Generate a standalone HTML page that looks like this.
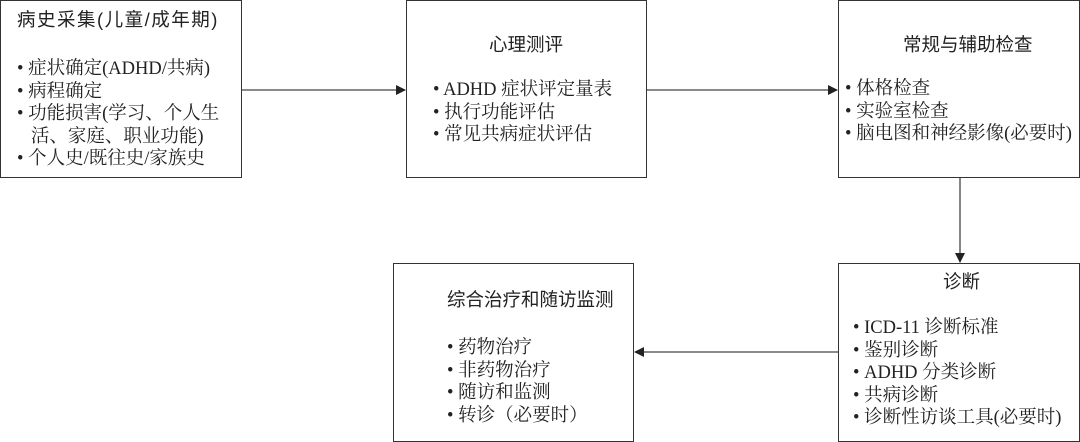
<!DOCTYPE html>
<html><head><meta charset="utf-8"><style>
body{margin:0;width:1080px;height:442px;background:#fff;position:relative;overflow:hidden;color:#222}
.b{position:absolute;border:1.5px solid #333;box-sizing:border-box;background:#fff}
.t{position:absolute;font-family:"Liberation Sans","Noto Sans CJK SC",sans-serif;font-size:18.5px;white-space:nowrap;line-height:22px}
.s{position:absolute;font-family:"Liberation Serif","Noto Serif CJK SC",serif;font-size:18.5px;white-space:nowrap;line-height:22.5px}
</style></head><body>
<svg width="1080" height="442" style="position:absolute;left:0;top:0">
<defs><marker id="a" markerWidth="10" markerHeight="10" refX="9" refY="5" orient="auto" markerUnits="userSpaceOnUse"><path d="M0,0L10,5L0,10z" fill="#222"/></marker></defs>
<g stroke="#444" stroke-width="1.3" fill="none">
<line x1="242" y1="90" x2="405" y2="90" marker-end="url(#a)"/>
<line x1="647" y1="90" x2="837" y2="90" marker-end="url(#a)"/>
<line x1="960" y1="178" x2="960" y2="262" marker-end="url(#a)"/>
<line x1="838" y1="352" x2="635" y2="352" marker-end="url(#a)"/>
</g></svg>
<div class="b" style="left:0;top:0;width:242px;height:178px"></div>
<div class="t" style="left:17px;top:9px;letter-spacing:1.5px">病史采集(儿童/成年期)</div>
<div class="s" style="left:17px;top:58px">• 症状确定(ADHD/共病)<br>• 病程确定<br>• 功能损害(学习、个人生<br>&nbsp;&nbsp;&nbsp;活、家庭、职业功能)<br>• 个人史/既往史/家族史</div>
<div class="b" style="left:406px;top:0;width:241px;height:178px"></div>
<div class="t" style="left:489px;top:34px">心理测评</div>
<div class="s" style="left:433px;top:79px">• ADHD 症状评定量表<br>• 执行功能评估<br>• 常见共病症状评估</div>
<div class="b" style="left:838px;top:0;width:242px;height:178px"></div>
<div class="t" style="left:903px;top:34px">常规与辅助检查</div>
<div class="s" style="left:845px;top:78px">• 体格检查<br>• 实验室检查<br>• 脑电图和神经影像(必要时)</div>
<div class="b" style="left:838px;top:263px;width:242px;height:179px"></div>
<div class="t" style="left:943px;top:271px">诊断</div>
<div class="s" style="left:853px;top:317px">• ICD-11 诊断标准<br>• 鉴别诊断<br>• ADHD 分类诊断<br>• 共病诊断<br>• 诊断性访谈工具(必要时)</div>
<div class="b" style="left:393px;top:263px;width:241px;height:179px"></div>
<div class="t" style="left:447px;top:289px">综合治疗和随访监测</div>
<div class="s" style="left:447px;top:337px">• 药物治疗<br>• 非药物治疗<br>• 随访和监测<br>• 转诊（必要时）</div>
</body></html>
